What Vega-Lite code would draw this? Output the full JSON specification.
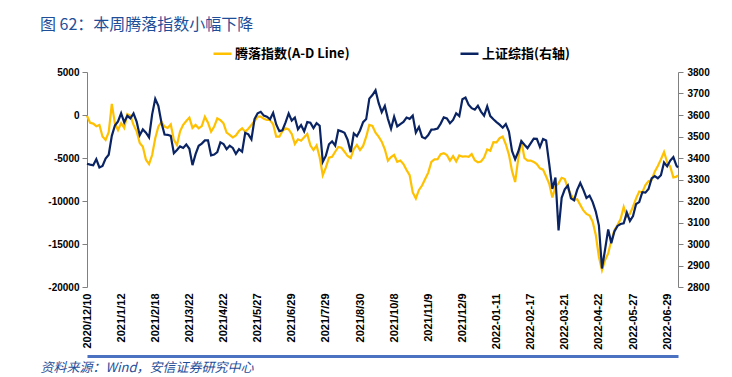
{
  "$schema": "https://vega.github.io/schema/vega-lite/v6.json",
  "autosize": {"type": "none"},
  "padding": {"left": 87, "top": 72, "right": 54, "bottom": 90},
  "width": 591,
  "height": 215,
  "background": "#ffffff",
  "config": {"view": {"stroke": null}, "axis": {"grid": false, "labelFont": "Liberation Sans", "labelFontWeight": "bold", "labelColor": "#000000"}},
  "title": {"text": "图 62：本周腾落指数小幅下降", "anchor": "start", "frame": "group", "dx": -47, "dy": 3, "offset": 0, "baseline": "alphabetic", "font": "Noto Sans CJK SC", "fontSize": 16, "fontWeight": "normal", "color": "#1F4E99"},
  "data": {"values": [
    {"i":0,"ad":-100,"sh":3373},{"i":2,"ad":-900,"sh":3369},{"i":4,"ad":-1000,"sh":3366},{"i":6,"ad":-1300,"sh":3394},{"i":8,"ad":-1150,"sh":3356},
    {"i":10,"ad":-2500,"sh":3363},{"i":12,"ad":-2900,"sh":3397},{"i":14,"ad":-2000,"sh":3415},{"i":16,"ad":1300,"sh":3503},{"i":18,"ad":-1000,"sh":3551},
    {"i":20,"ad":-1750,"sh":3570},{"i":22,"ad":-950,"sh":3608},{"i":24,"ad":-1500,"sh":3566},{"i":26,"ad":100,"sh":3596},{"i":28,"ad":-100,"sh":3584},
    {"i":30,"ad":-1150,"sh":3607},{"i":32,"ad":-1900,"sh":3569},{"i":34,"ad":-3250,"sh":3506},{"i":36,"ad":-3700,"sh":3533},{"i":38,"ad":-5200,"sh":3518},
    {"i":40,"ad":-5700,"sh":3496},{"i":42,"ad":-4650,"sh":3603},{"i":44,"ad":-2700,"sh":3675},{"i":46,"ad":-1350,"sh":3643},{"i":48,"ad":-800,"sh":3564},
    {"i":50,"ad":-1350,"sh":3509},{"i":52,"ad":-1500,"sh":3508},{"i":54,"ad":-1100,"sh":3503},{"i":56,"ad":-2900,"sh":3422},{"i":58,"ad":-3500,"sh":3437},
    {"i":60,"ad":-1900,"sh":3454},{"i":62,"ad":-1150,"sh":3447},{"i":64,"ad":-700,"sh":3463},{"i":66,"ad":-300,"sh":3443},{"i":68,"ad":-1500,"sh":3367},
    {"i":70,"ad":-1150,"sh":3418},{"i":72,"ad":-1550,"sh":3457},{"i":74,"ad":-1300,"sh":3467},{"i":76,"ad":-200,"sh":3482},{"i":78,"ad":-900,"sh":3482},
    {"i":80,"ad":-1950,"sh":3412},{"i":82,"ad":-1350,"sh":3416},{"i":84,"ad":-400,"sh":3427},{"i":86,"ad":-600,"sh":3473},{"i":88,"ad":-970,"sh":3465},
    {"i":90,"ad":-2050,"sh":3441},{"i":92,"ad":-2300,"sh":3457},{"i":94,"ad":-2600,"sh":3447},{"i":96,"ad":-2370,"sh":3419},{"i":98,"ad":-1860,"sh":3441},
    {"i":100,"ad":-1550,"sh":3429},{"i":102,"ad":-1950,"sh":3517},{"i":104,"ad":-1590,"sh":3510},{"i":106,"ad":-1160,"sh":3487},{"i":108,"ad":-700,"sh":3581},
    {"i":110,"ad":-190,"sh":3608},{"i":112,"ad":-190,"sh":3615},{"i":114,"ad":-430,"sh":3597},{"i":116,"ad":-580,"sh":3592},{"i":118,"ad":-580,"sh":3580},
    {"i":120,"ad":-1080,"sh":3610},{"i":122,"ad":-2520,"sh":3556},{"i":124,"ad":-2520,"sh":3525},{"i":126,"ad":-1860,"sh":3529},{"i":128,"ad":-1550,"sh":3566},
    {"i":130,"ad":-1670,"sh":3607},{"i":132,"ad":-2200,"sh":3574},{"i":134,"ad":-3370,"sh":3588},{"i":136,"ad":-2830,"sh":3534},{"i":138,"ad":-2990,"sh":3553},
    {"i":140,"ad":-2600,"sh":3524},{"i":142,"ad":-2210,"sh":3567},{"i":144,"ad":-3530,"sh":3564},{"i":146,"ad":-4070,"sh":3539},{"i":148,"ad":-3530,"sh":3562},
    {"i":150,"ad":-4920,"sh":3550},{"i":152,"ad":-7000,"sh":3382},{"i":154,"ad":-6090,"sh":3411},{"i":156,"ad":-4960,"sh":3464},{"i":158,"ad":-4850,"sh":3477},
    {"i":160,"ad":-4270,"sh":3458},{"i":162,"ad":-3720,"sh":3529},{"i":164,"ad":-3800,"sh":3524},{"i":166,"ad":-4270,"sh":3517},{"i":168,"ad":-4770,"sh":3485},
    {"i":170,"ad":-5000,"sh":3427},{"i":172,"ad":-3950,"sh":3514},{"i":174,"ad":-3490,"sh":3501},{"i":176,"ad":-4070,"sh":3528},{"i":178,"ad":-3600,"sh":3567},
    {"i":180,"ad":-2520,"sh":3581},{"i":182,"ad":-1160,"sh":3676},{"i":184,"ad":-1280,"sh":3693},{"i":186,"ad":-2050,"sh":3715},{"i":188,"ad":-2520,"sh":3656},
    {"i":190,"ad":-3100,"sh":3613},{"i":192,"ad":-3990,"sh":3642},{"i":194,"ad":-5310,"sh":3582},{"i":196,"ad":-4900,"sh":3536},{"i":198,"ad":-4650,"sh":3592},
    {"i":200,"ad":-5450,"sh":3547},{"i":202,"ad":-5300,"sh":3558},{"i":204,"ad":-5700,"sh":3568},{"i":206,"ad":-6400,"sh":3588},{"i":208,"ad":-7000,"sh":3582},
    {"i":210,"ad":-9000,"sh":3597},{"i":212,"ad":-9700,"sh":3518},{"i":214,"ad":-8720,"sh":3544},{"i":216,"ad":-8200,"sh":3498},{"i":218,"ad":-7450,"sh":3491},
    {"i":220,"ad":-6700,"sh":3507},{"i":222,"ad":-5450,"sh":3532},{"i":224,"ad":-5160,"sh":3533},{"i":226,"ad":-5150,"sh":3537},{"i":228,"ad":-4550,"sh":3560},
    {"i":230,"ad":-4430,"sh":3589},{"i":232,"ad":-4650,"sh":3584},{"i":234,"ad":-5300,"sh":3562},{"i":236,"ad":-4770,"sh":3577},{"i":238,"ad":-5400,"sh":3608},
    {"i":240,"ad":-4700,"sh":3595},{"i":242,"ad":-4850,"sh":3673},{"i":244,"ad":-4800,"sh":3681},{"i":246,"ad":-4870,"sh":3648},{"i":248,"ad":-4550,"sh":3632},
    {"i":250,"ad":-5250,"sh":3625},{"i":252,"ad":-5500,"sh":3643},{"i":254,"ad":-5400,"sh":3616},{"i":256,"ad":-4950,"sh":3597},{"i":258,"ad":-4000,"sh":3640},
    {"i":260,"ad":-4150,"sh":3595},{"i":262,"ad":-3150,"sh":3580},{"i":264,"ad":-3180,"sh":3567},{"i":266,"ad":-2700,"sh":3555},{"i":268,"ad":-2500,"sh":3541},
    {"i":270,"ad":-3400,"sh":3558},{"i":272,"ad":-4600,"sh":3523},{"i":274,"ad":-6500,"sh":3433},{"i":276,"ad":-7800,"sh":3394},{"i":278,"ad":-5100,"sh":3429},
    {"i":280,"ad":-3000,"sh":3479},{"i":282,"ad":-5000,"sh":3462},{"i":284,"ad":-5300,"sh":3446},{"i":286,"ad":-5300,"sh":3468},{"i":288,"ad":-5450,"sh":3490},
    {"i":290,"ad":-5700,"sh":3489},{"i":292,"ad":-6200,"sh":3451},{"i":294,"ad":-6350,"sh":3488},{"i":296,"ad":-7150,"sh":3481},{"i":298,"ad":-8000,"sh":3372},
    {"i":300,"ad":-9600,"sh":3256},{"i":302,"ad":-8350,"sh":3309},{"i":304,"ad":-7950,"sh":3063},{"i":306,"ad":-7300,"sh":3215},{"i":308,"ad":-7450,"sh":3254},
    {"i":310,"ad":-8530,"sh":3272},{"i":312,"ad":-9250,"sh":3212},{"i":314,"ad":-9890,"sh":3203},{"i":316,"ad":-9800,"sh":3252},{"i":318,"ad":-10450,"sh":3284},
    {"i":320,"ad":-11100,"sh":3252},{"i":322,"ad":-11500,"sh":3214},{"i":324,"ad":-11700,"sh":3225},{"i":326,"ad":-12400,"sh":3195},{"i":328,"ad":-13950,"sh":3151},
    {"i":330,"ad":-16480,"sh":3087},{"i":332,"ad":-18050,"sh":2886},{"i":334,"ad":-16850,"sh":2975},{"i":336,"ad":-16100,"sh":3068},{"i":338,"ad":-14600,"sh":3004},
    {"i":340,"ad":-13400,"sh":3058},{"i":342,"ad":-12800,"sh":3084},{"i":344,"ad":-12100,"sh":3093},{"i":346,"ad":-10700,"sh":3096},{"i":348,"ad":-11800,"sh":3146},
    {"i":350,"ad":-11500,"sh":3107},{"i":352,"ad":-10650,"sh":3130},{"i":354,"ad":-9700,"sh":3186},{"i":356,"ad":-8900,"sh":3195},{"i":358,"ad":-9000,"sh":3241},
    {"i":360,"ad":-8150,"sh":3239},{"i":362,"ad":-7700,"sh":3256},{"i":364,"ad":-7550,"sh":3305},{"i":366,"ad":-6600,"sh":3316},{"i":368,"ad":-5930,"sh":3306},
    {"i":370,"ad":-5160,"sh":3320},{"i":372,"ad":-4300,"sh":3379},{"i":374,"ad":-5500,"sh":3361},{"i":376,"ad":-6000,"sh":3388},{"i":378,"ad":-7250,"sh":3404},
    {"i":380,"ad":-7170,"sh":3364},{"i":381,"ad":-7000,"sh":3356}
  ]},
  "layer": [
    {
      "mark": {"type": "line", "strokeWidth": 2.2},
      "encoding": {
        "x": {"field": "i", "type": "quantitative", "scale": {"domain": [0, 381], "nice": false, "zero": false},
          "axis": {"values": [0,22,44,66,88,110,132,154,176,198,220,242,264,286,308,330,352,374],
            "labelExpr": "['2020/12/10','2021/1/12','2021/2/18','2021/3/22','2021/4/22','2021/5/27','2021/6/29','2021/7/29','2021/8/30','2021/10/8','2021/11/9','2021/12/9','2022-01-11','2022-02-17','2022-03-21','2022-04-22','2022-05-27','2022-06-29'][round(datum.value/22)]",
            "labelAngle": -90, "labelFontSize": 11, "labelPadding": 6, "ticks": false, "domain": false, "labelOverlap": false, "labelFlush": false, "labelBound": false,
            "title": "资料来源：Wind，安信证券研究中心", "titleFont": "Noto Sans CJK SC", "titleFontSize": 13, "titleFontStyle": "italic", "titleFontWeight": "normal", "titleColor": "#1F4E99",
            "titleAnchor": "start", "titleAlign": "left", "titleBaseline": "alphabetic", "titleX": -47, "titleY": 84, "titleAngle": 0}},
        "y": {"field": "ad", "type": "quantitative", "scale": {"domain": [-20000, 5000], "nice": false, "zero": false},
          "axis": {"orient": "left", "values": [-20000,-15000,-10000,-5000,0,5000], "labelExpr": "datum.value + ''", "title": null, "tickSize": 5, "labelPadding": 3, "labelFontSize": 10, "domainColor": "#808080", "tickColor": "#808080"}},
        "color": {"datum": "腾落指数(A-D Line)", "type": "nominal",
          "scale": {"domain": ["腾落指数(A-D Line)", "上证综指(右轴)"], "range": ["#FFC000", "#0A2463"]},
          "legend": {"orient": "none", "legendX": 125, "legendY": -29, "direction": "horizontal", "columns": 2, "columnPadding": 105, "padding": 0, "title": null,
            "symbolType": "stroke", "symbolSize": 324, "symbolStrokeWidth": 2.5, "labelOffset": 2, "labelFont": "Noto Sans CJK SC", "labelFontSize": 13, "labelFontWeight": "bold", "labelColor": "#000000", "labelLimit": 300}}
      }
    },
    {
      "mark": {"type": "line", "strokeWidth": 2.2},
      "encoding": {
        "x": {"field": "i", "type": "quantitative", "scale": {"domain": [0, 381], "nice": false, "zero": false},
          "axis": {"orient": "bottom", "offset": 69, "labels": false, "ticks": false, "domain": true, "domainColor": "#4A72C0", "domainWidth": 3, "title": null}},
        "y": {"field": "sh", "type": "quantitative", "scale": {"domain": [2800, 3800], "nice": false, "zero": false},
          "axis": {"orient": "right", "values": [2800,2900,3000,3100,3200,3300,3400,3500,3600,3700,3800], "labelExpr": "datum.value + ''", "title": null, "tickSize": 5, "labelPadding": 4, "labelFontSize": 10, "domainColor": "#808080", "tickColor": "#808080"}},
        "color": {"datum": "上证综指(右轴)", "type": "nominal"}
      }
    }
  ],
  "resolve": {"scale": {"y": "independent", "x": "independent"}}
}
